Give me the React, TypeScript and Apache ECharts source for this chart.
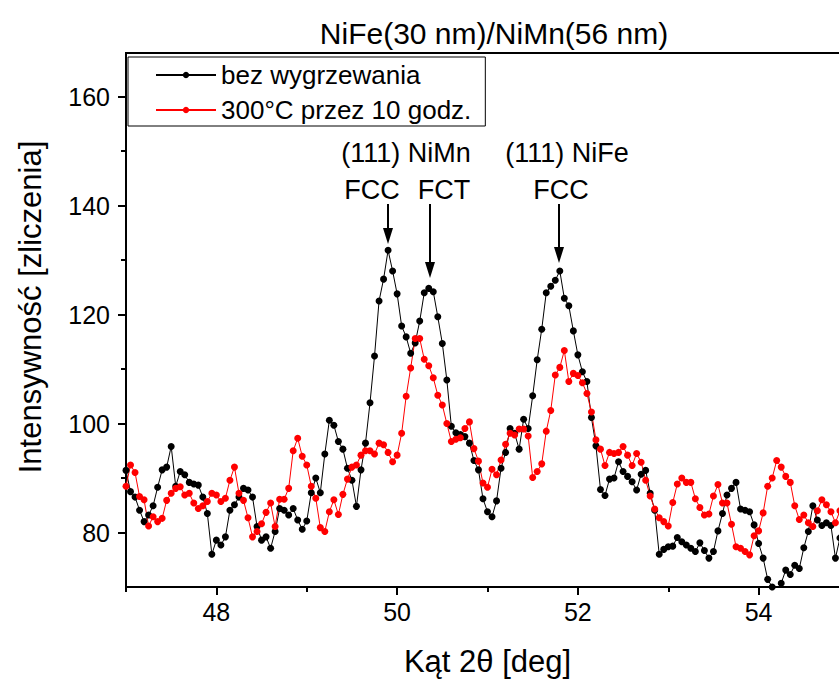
import React, { useEffect, useRef } from "react";
import * as echarts from "echarts";

const TITLE = "NiFe(30 nm)/NiMn(56 nm)";
const X_NAME = "Kąt 2θ [deg]";
const Y_NAME = "Intensywność [zliczenia]";
const SERIES_NAMES = ["bez wygrzewania", "300°C przez 10 godz."];
const SERIES_COLORS = ["#000000", "#ff0000"];

const X_MAJOR = [48, 50, 52, 54];
const X_MINOR = [47, 49, 51, 53, 55];
const Y_MAJOR = [80, 100, 120, 140, 160];
const Y_MINOR = [90, 110, 130, 150];

const ANGLES = [
  47.0, 47.05, 47.1, 47.15, 47.2, 47.25, 47.3, 47.35, 47.4, 47.45,
  47.5, 47.55, 47.6, 47.65, 47.7, 47.75, 47.8, 47.85, 47.9, 47.95,
  48.0, 48.05, 48.1, 48.15, 48.2, 48.25, 48.3, 48.35, 48.4, 48.45,
  48.5, 48.55, 48.6, 48.65, 48.7, 48.75, 48.8, 48.85, 48.9, 48.95,
  49.0, 49.05, 49.1, 49.15, 49.2, 49.25, 49.3, 49.35, 49.4, 49.45,
  49.5, 49.55, 49.6, 49.65, 49.7, 49.75, 49.8, 49.85, 49.9, 49.95,
  50.0, 50.05, 50.1, 50.15, 50.2, 50.25, 50.3, 50.35, 50.4, 50.45,
  50.5, 50.55, 50.6, 50.65, 50.7, 50.75, 50.8, 50.85, 50.9, 50.95,
  51.0, 51.05, 51.1, 51.15, 51.2, 51.25, 51.3, 51.35, 51.4, 51.45,
  51.5, 51.55, 51.6, 51.65, 51.7, 51.75, 51.8, 51.85, 51.9, 51.95,
  52.0, 52.05, 52.1, 52.15, 52.2, 52.25, 52.3, 52.35, 52.4, 52.45,
  52.5, 52.55, 52.6, 52.65, 52.7, 52.75, 52.8, 52.85, 52.9, 52.95,
  53.0, 53.05, 53.1, 53.15, 53.2, 53.25, 53.3, 53.35, 53.4, 53.45,
  53.5, 53.55, 53.6, 53.65, 53.7, 53.75, 53.8, 53.85, 53.9, 53.95,
  54.0, 54.05, 54.1, 54.15, 54.2, 54.25, 54.3, 54.35, 54.4, 54.45,
  54.5, 54.55, 54.6, 54.65, 54.7, 54.75, 54.8, 54.85, 54.9, 54.95,
  55.0,
];

const BEZ_WYGRZEWANIA = [
  91.4, 87.5, 86.5, 84.1, 82.0, 83.2, 84.9, 88.3, 91.5, 92.0,
  95.8, 88.5, 91.2, 90.6, 89.2, 88.9, 88.7, 86.5, 83.5, 76.0,
  78.6, 77.7, 79.2, 84.1, 85.1, 86.5, 88.1, 87.8, 86.5, 81.1,
  78.6, 79.2, 77.1, 80.2, 84.4, 84.1, 83.2, 84.4, 82.3, 80.6,
  82.1, 87.3, 90.0, 87.3, 94.4, 100.6, 99.7, 96.7, 95.3, 91.8,
  89.6, 84.8, 91.5, 96.4, 103.8, 112.4, 122.5, 126.5, 131.8, 128.0,
  123.8, 117.9, 115.9, 112.9, 114.8, 118.8, 124.0, 124.8, 124.2, 119.6,
  114.7, 108.0, 99.5, 98.3, 98.0, 97.6, 96.4, 93.2, 91.5, 86.2,
  83.8, 82.9, 85.8, 91.8, 94.7, 99.1, 98.2, 95.3, 100.8, 99.1,
  105.1, 111.7, 117.3, 124.0, 125.2, 126.3, 128.0, 123.0, 121.6, 117.0,
  112.6, 109.5, 107.7, 101.1, 95.9, 87.9, 86.8, 89.8, 90.0, 93.0,
  91.2, 90.3, 89.3, 87.8, 90.7, 91.4, 87.2, 84.1, 76.0, 76.9,
  77.4, 77.5, 79.1, 78.3, 77.7, 77.1, 76.5, 78.1, 76.7, 75.3,
  76.5, 80.3, 83.5, 86.9, 88.1, 89.2, 84.3, 84.1, 83.8, 81.4,
  78.0, 75.3, 71.4, 70.0, 69.5, 70.7, 73.1, 72.3, 74.0, 73.4,
  77.2, 80.2, 84.9, 82.3, 81.3, 81.8, 81.3, 75.3, 79.0, 80.0,
  79.0,
];

const WYGRZEWANE_300C = [
  88.5, 92.4, 91.0, 86.6, 86.0, 81.2, 82.9, 82.0, 82.6, 85.9,
  87.2, 88.1, 88.4, 86.9, 87.2, 85.4, 84.4, 84.9, 85.7, 87.2,
  86.9, 85.7, 86.3, 89.6, 92.0, 87.2, 85.9, 82.7, 79.2, 80.2,
  81.6, 83.7, 85.4, 81.1, 86.1, 86.1, 88.1, 95.0, 97.3, 94.0,
  92.4, 88.5, 86.3, 80.9, 80.2, 83.8, 86.0, 83.3, 87.0, 89.8,
  92.0, 92.4, 94.2, 95.0, 95.0, 94.4, 96.4, 96.1, 94.7, 93.0,
  94.2, 98.2, 105.0, 110.2, 115.6, 115.6, 111.8, 110.6, 108.4, 105.2,
  103.4, 100.0, 96.7, 97.1, 97.4, 99.1, 100.3, 95.4, 93.1, 89.1,
  88.3, 91.6, 90.6, 93.3, 96.2, 98.2, 97.9, 99.0, 99.0, 97.7,
  90.1, 91.2, 92.6, 98.6, 102.4, 108.9, 110.3, 113.4, 107.7, 109.2,
  108.8, 107.5, 105.5, 102.1, 97.0, 95.3, 92.3, 94.7, 94.5, 94.7,
  95.8, 94.2, 92.3, 94.5, 92.9, 89.6, 86.7, 84.3, 82.7, 82.0,
  81.2, 85.5, 88.9, 90.0, 89.2, 89.2, 86.2, 84.6, 83.2, 83.4,
  86.7, 88.8, 85.4, 85.4, 81.5, 77.4, 77.1, 76.5, 75.9, 79.4,
  80.3, 83.6, 88.5, 90.0, 93.2, 92.0, 90.3, 89.2, 84.9, 82.4,
  83.2, 81.8, 81.1, 84.0, 86.0, 85.1, 83.8, 81.8, 84.0, 83.0,
  82.0,
];

const PEAK_LABELS = ["(111) NiMn", "(111) NiFe"];
const PHASE_LABELS = ["FCC", "FCT", "FCC"];

const FONT = "'Liberation Sans', Arial, sans-serif";

function label(text: string, x: number, y: number) {
  return {
    type: "text",
    x,
    y,
    style: { text, fontFamily: FONT, fontSize: 27, fill: "#000", align: "center", verticalAlign: "middle" },
  };
}

function arrow(x: number, y0: number, y1: number) {
  return {
    type: "group",
    children: [
      { type: "line", shape: { x1: x, y1: y0, x2: x, y2: y1 - 14 }, style: { stroke: "#000", lineWidth: 2 } },
      {
        type: "polygon",
        shape: { points: [[x - 5, y1 - 16], [x + 5, y1 - 16], [x, y1]] },
        style: { fill: "#000" },
      },
    ],
  };
}

export default function App() {
  const ref = useRef<HTMLDivElement>(null);

  useEffect(() => {
    document.body.style.margin = "0";
    if (!ref.current) return;
    const chart = echarts.init(ref.current, undefined, { renderer: "svg" });

    const seriesData = [BEZ_WYGRZEWANIA, WYGRZEWANE_300C];

    const axisCommonX = { type: "value", min: 47, max: 55, position: "bottom", splitLine: { show: false } };
    const axisCommonY = { type: "value", min: 70, max: 168, position: "left", splitLine: { show: false } };

    const option: any = {
      animation: false,
      backgroundColor: "#ffffff",
      textStyle: { fontFamily: FONT, color: "#000" },
      title: {
        text: TITLE,
        left: 489,
        top: 13,
        textAlign: "center",
        textStyle: { fontFamily: FONT, fontSize: 30, fontWeight: "normal", color: "#000" },
      },
      legend: {
        orient: "vertical",
        left: 128,
        top: 57,
        data: SERIES_NAMES,
        itemWidth: 60,
        itemHeight: 8,
        itemGap: 9,
        padding: [5, 14, 3, 27],
        borderColor: "#000",
        borderWidth: 1,
        textStyle: { fontFamily: FONT, fontSize: 26, color: "#000" },
      },
      grid: {
        left: 126,
        top: 53,
        right: -10,
        bottom: 95,
        show: true,
        borderColor: "#000",
        borderWidth: 2,
        backgroundColor: "transparent",
        containLabel: false,
        outerBoundsMode: "none",
      },
      xAxis: [
        {
          ...axisCommonX,
          axisLine: { show: true, lineStyle: { color: "#000", width: 2 } },
          axisTick: { show: true, length: 8, lineStyle: { color: "#000", width: 2 }, customValues: X_MAJOR },
          axisLabel: { customValues: X_MAJOR, fontFamily: FONT, fontSize: 25, color: "#000", margin: 12 },
          name: X_NAME,
          nameLocation: "middle",
          nameGap: 59,
          nameMoveOverlap: false,
          nameTextStyle: { fontFamily: FONT, fontSize: 31, color: "#000" },
        },
        {
          ...axisCommonX,
          axisLine: { show: false },
          axisTick: { show: true, length: 5, lineStyle: { color: "#000", width: 2 }, customValues: X_MINOR },
          axisLabel: { show: false },
        },
      ],
      yAxis: [
        {
          ...axisCommonY,
          axisLine: { show: true, lineStyle: { color: "#000", width: 2 } },
          axisTick: { show: true, length: 8, lineStyle: { color: "#000", width: 2 }, customValues: Y_MAJOR },
          axisLabel: { customValues: Y_MAJOR, fontFamily: FONT, fontSize: 25, color: "#000", margin: 16 },
          name: Y_NAME,
          nameLocation: "middle",
          nameGap: 80,
          nameMoveOverlap: false,
          nameTextStyle: { fontFamily: FONT, fontSize: 31, color: "#000", padding: [0, 0, 0, 26] },
        },
        {
          ...axisCommonY,
          axisLine: { show: false },
          axisTick: { show: true, length: 5, lineStyle: { color: "#000", width: 2 }, customValues: Y_MINOR },
          axisLabel: { show: false },
        },
      ],
      series: SERIES_NAMES.map((name, s) => ({
        name,
        type: "line",
        xAxisIndex: 0,
        yAxisIndex: 0,
        data: ANGLES.map((a, i) => [a, seriesData[s][i]]),
        symbol: "circle",
        symbolSize: 7,
        showSymbol: true,
        itemStyle: { color: SERIES_COLORS[s] },
        lineStyle: { color: SERIES_COLORS[s], width: 1 },
        clip: true,
      })),
      graphic: [
        label(PEAK_LABELS[0], 406, 153),
        label(PEAK_LABELS[1], 567, 153),
        label(PHASE_LABELS[0], 372, 190),
        label(PHASE_LABELS[1], 444, 190),
        label(PHASE_LABELS[2], 561, 190),
        arrow(388, 204, 244),
        arrow(430, 204, 278),
        arrow(559, 204, 263),
      ],
    };

    chart.setOption(option);
    return () => chart.dispose();
  }, []);

  return (
    <div style={{ width: 839, height: 682, overflow: "hidden", background: "#fff" }}>
      <div ref={ref} style={{ width: 839, height: 682 }} />
    </div>
  );
}
